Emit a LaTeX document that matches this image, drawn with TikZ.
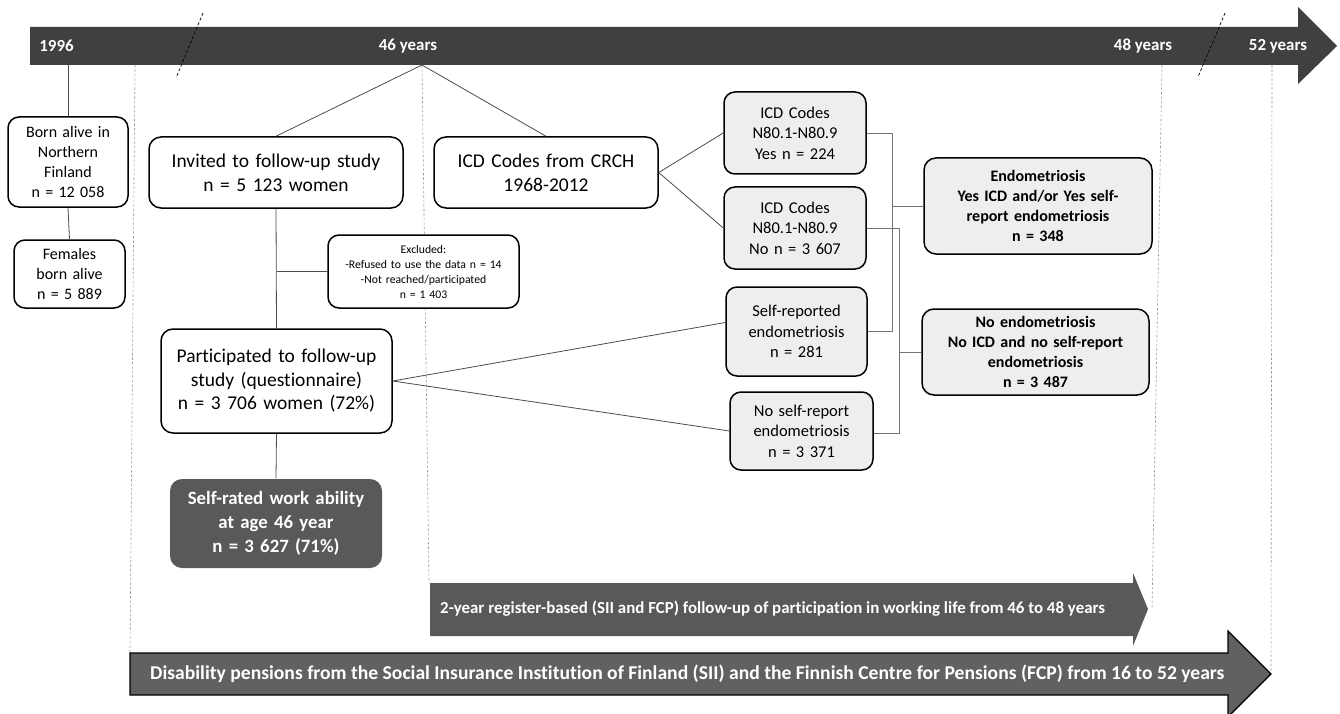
\documentclass[tikz,border=0pt]{standalone}
\usepackage{fontspec}
\setmainfont{Carlito}[Ligatures=NoCommon]
\begin{document}
\begin{tikzpicture}[x=1pt,y=-1pt,
  box/.style={draw=black,line width=1.5pt,rounded corners=11pt,align=center,inner sep=2pt,fill=white},
  gbox/.style={box,fill=gray!13},
  conn/.style={draw=black!70,line width=0.8pt},
  brk/.style={draw=black!55,line width=0.8pt},
  guide/.style={draw=black!40,line width=0.6pt,dash pattern=on 2.5pt off 2pt},
  slash/.style={draw=black,line width=0.7pt,dash pattern=on 3pt off 2pt},
  tlabel/.style={text=white,font=\fontsize{16.9}{19}\selectfont\bfseries,inner sep=0pt},
  arr/.style={font=\bfseries,text=white,inner sep=0pt,anchor=west}
]
\useasboundingbox (0,0) rectangle (1340,714);
% timeline
\fill[black!75] (30,27) -- (1298,27) -- (1298,7) -- (1337,46) -- (1298,84) -- (1298,65) -- (30,65) -- cycle;
\node[tlabel] (y1996) at (56.5,46) {1996};
\node[tlabel] (y46) at (408,46) {46 years};
\node[tlabel] (y48) at (1143,46) {48 years};
\node[tlabel] (y52) at (1278,46) {52 years};
\coordinate (t1996) at (68,65);
\coordinate (t46) at (422,65);
% guides
\coordinate (g1a) at (135,65); \coordinate (g1b) at (130,653);
\coordinate (g2a) at (422,65); \coordinate (g2b) at (429,583);
\coordinate (g3a) at (1162,65); \coordinate (g3b) at (1152,608);
\coordinate (g4a) at (1272,65); \coordinate (g4b) at (1271,672);
\draw[guide] (g1a) -- (g1b);
\draw[guide] (g2a) -- (g2b);
\draw[guide] (g3a) -- (g3b);
\draw[guide] (g4a) -- (g4b);
% slashes
\coordinate (s1a) at (203,13); \coordinate (s1b) at (176,78);
\coordinate (s2a) at (1225,13); \coordinate (s2b) at (1198,77);
\draw[slash] (s1a) -- (s1b);
\draw[slash] (s2a) -- (s2b);
% left column
\node[box,minimum width=120pt,minimum height=90pt,text width=114pt,font=\fontsize{16}{20}\selectfont] (born) at (68,162) {Born alive in\\Northern\\Finland\\n = 12 058};
\node[box,minimum width=111pt,minimum height=68pt,text width=105pt,font=\fontsize{16}{20}\selectfont] (fem) at (69.5,274) {Females\\born alive\\n = 5 889};
% middle
\node[box,rounded corners=12pt,minimum width=254pt,minimum height=71pt,text width=248pt,font=\fontsize{19.5}{24}\selectfont] (inv) at (276,172.5) {Invited to follow-up study\\n = 5 123 women};
\node[box,rounded corners=12pt,minimum width=224pt,minimum height=71pt,text width=218pt,font=\fontsize{19.5}{24}\selectfont] (crch) at (546,172.5) {ICD Codes from CRCH\\1968-2012};
\node[box,minimum width=191pt,minimum height=73pt,text width=185pt,font=\fontsize{11.7}{15}\selectfont] (excl) at (423.5,271.5) {Excluded:\\-Refused to use the data n = 14\\-Not reached/participated\\n = 1 403};
\node[box,rounded corners=12pt,minimum width=231pt,minimum height=104pt,text width=225pt,font=\fontsize{19.5}{23.5}\selectfont] (part) at (276.5,381) {Participated to follow-up\\study (questionnaire)\\n = 3 706 women (72\%)};
\node[box,draw=none,fill=black!65,text=white,rounded corners=12pt,minimum width=212pt,minimum height=89pt,text width=206pt,font=\fontsize{18.8}{24}\selectfont\bfseries] (selfr) at (276,523.5) {Self-rated work ability\\at age 46 year\\n = 3 627 (71\%)};
% right
\node[gbox,minimum width=142pt,minimum height=82pt,text width=136pt,font=\fontsize{16.5}{20.5}\selectfont] (icdyes) at (795,133) {ICD Codes\\N80.1-N80.9\\Yes n = 224};
\node[gbox,minimum width=142pt,minimum height=82pt,text width=136pt,font=\fontsize{16.5}{20.5}\selectfont] (icdno) at (795,228) {ICD Codes\\N80.1-N80.9\\No n = 3 607};
\node[gbox,minimum width=141pt,minimum height=89pt,text width=135pt,font=\fontsize{16.5}{20.5}\selectfont] (selfrep) at (796.5,331.5) {Self-reported\\endometriosis\\n = 281};
\node[gbox,minimum width=143pt,minimum height=78pt,text width=137pt,font=\fontsize{16.5}{20.5}\selectfont] (noself) at (801.5,431) {No self-report\\endometriosis\\n = 3 371};
\node[gbox,rounded corners=12pt,minimum width=228pt,minimum height=96pt,text width=222pt,font=\fontsize{16}{20}\selectfont\bfseries] (endo) at (1038,206) {Endometriosis\\Yes ICD and/or Yes self-\\report endometriosis\\n = 348};
\node[gbox,rounded corners=12pt,minimum width=227pt,minimum height=86pt,text width=221pt,font=\fontsize{16}{20}\selectfont\bfseries] (noendo) at (1035.5,352) {No endometriosis\\No ICD and no self-report\\endometriosis\\n = 3 487};
% connectors
\draw[conn] (t1996) -- (born.north);
\draw[conn] (born.south) -- (fem.north);
\draw[conn] (t46) -- (inv.north);
\draw[conn] (t46) -- (crch.north);
\draw[conn] (inv.south) -- (part.north);
\coordinate (exj) at (276.5,271.5);
\draw[conn] (exj) -- (excl.west);
\draw[conn] (crch.east) -- (icdyes.west);
\draw[conn] (crch.east) -- (icdno.west);
\draw[conn] (part.east) -- ([yshift=9pt]selfrep.west);
\draw[conn] (part.east) -- (noself.west);
\draw[conn] (part.south) -- (selfr.north);
% brackets
\coordinate (b1) at (892,0);
\coordinate (b2) at (899,0);
\draw[brk] (icdyes.east) -- (icdyes.east -| b1) -- (selfrep.east -| b1) -- (selfrep.east);
\draw[brk] (endo.west) -- (endo.west -| b1);
\draw[brk] (icdno.east) -- (icdno.east -| b2) -- ([yshift=-2pt]noself.east -| b2) -- ([yshift=-2pt]noself.east);
\draw[brk] (noendo.west) -- (noendo.west -| b2);
% bottom arrows
\fill[black!65] (430,583) -- (1133,583) -- (1133,573) -- (1148,609) -- (1133,646) -- (1133,636) -- (430,636) -- cycle;
\node[arr,font=\fontsize{16.9}{19}\selectfont\bfseries] (twoyr) at (440,609) {2-year register-based (SII and FCP) follow-up of participation in working life from 46 to 48 years};
\filldraw[fill=black!62,draw=black,line width=1.2pt] (130,653) -- (1228,653) -- (1228,631) -- (1271,674) -- (1228,717) -- (1228,695) -- (130,695) -- cycle;
\node[arr,font=\fontsize{19.6}{22}\selectfont\bfseries] (disab) at (150,674) {Disability pensions from the Social Insurance Institution of Finland (SII) and the Finnish Centre for Pensions (FCP) from 16 to 52 years};
\end{tikzpicture}
\end{document}
